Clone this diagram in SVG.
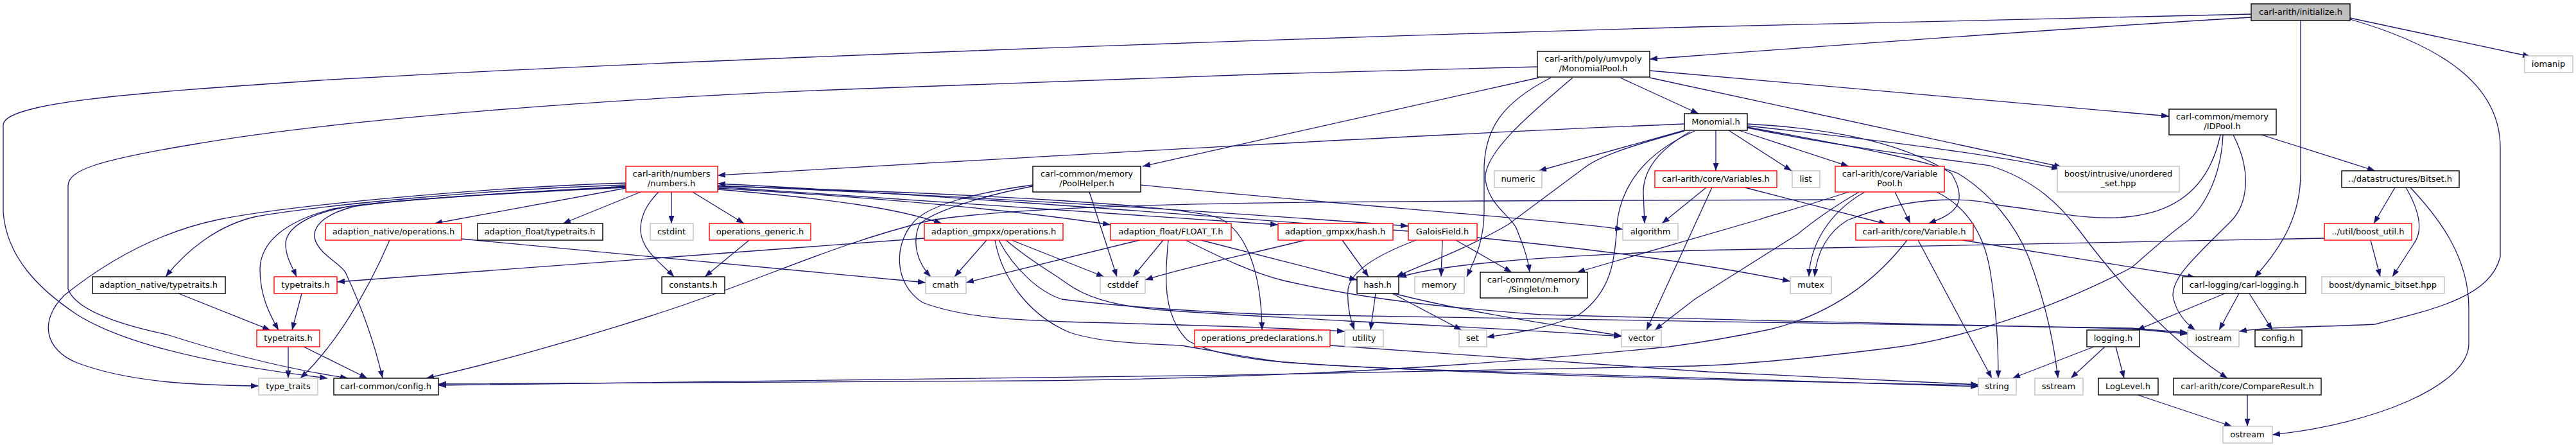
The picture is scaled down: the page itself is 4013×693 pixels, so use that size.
<svg xmlns="http://www.w3.org/2000/svg" width="4013" height="693" viewBox="0 0 4013 693">
<style>
.e{fill:none;stroke:#191970;stroke-width:1.3;marker-end:url(#a)}
rect{fill:#fff;stroke-width:1.4}
.k rect{stroke:#000}
.r rect{stroke:#ff0000}
.g rect{stroke:#bfbfbf}
.root rect{fill:#bfbfbf;stroke:#000}
text{font-family:"DejaVu Sans","Liberation Sans",sans-serif;font-size:13px;fill:#000;text-anchor:middle}
</style>
<defs>
<marker id="a" viewBox="0 0 12 9" refX="12" refY="4.5" markerWidth="12" markerHeight="9" markerUnits="userSpaceOnUse" orient="auto"><path d="M0,0L12,4.5L0,9z" fill="#191970"/></marker>
</defs>
<rect width="4013" height="693" fill="#fff" stroke="none"/>
<g id="edges">
<path class="e" d="M3507,27 C3200,45 2800,75 2570,92"/>
<path class="e" d="M3507,22 L2640,42 C2000,60 1000,95 500,125 C200,145 5,160 5,195 L5,330 C10,400 60,450 120,490 C200,540 350,570 510,589"/>
<path class="e" d="M3584,32 L3584,270 C3584,330 3560,380 3512,432"/>
<path class="e" d="M3661,30 C3800,70 3895,130 3895,230 L3895,400 C3880,460 3800,480 3700,505 C3600,510 3540,508 3488,516"/>
<path class="e" d="M3661,28 L3942,88"/>
<path class="e" d="M2395,104 L1980,115 L1320,139 C900,155 500,190 300,225 C150,250 106,265 106,290 L106,450 C115,475 160,500 260,521 C350,550 450,575 542,589"/>
<path class="e" d="M2397,121 L1780,259"/>
<path class="e" d="M2416,121 C2340,160 2314,200 2312,260 L2312,330 C2312,370 2300,400 2285,431"/>
<path class="e" d="M2450,121 C2380,180 2310,240 2314,280 C2320,320 2352,335 2362,355 C2372,380 2380,400 2383,424"/>
<path class="e" d="M2524,121 L2646,177"/>
<path class="e" d="M2570,110 C2900,140 3200,165 3379,181"/>
<path class="e" d="M2570,121 L3212,260"/>
<path class="e" d="M2624,193 C2200,210 1600,245 1118,273"/>
<path class="e" d="M2624,203 L2397,266"/>
<path class="e" d="M2673,203 L2673,266"/>
<path class="e" d="M2693,203 L2791,266"/>
<path class="e" d="M2709,203 L2880,259"/>
<path class="e" d="M2722,196 C2900,215 3100,240 3208,263"/>
<path class="e" d="M2722,193 C2850,200 2960,220 3040,270 C3070,320 3040,335 3004,348"/>
<path class="e" d="M2624,204 C2530,230 2490,245 2470,260 L2349,350 C2280,390 2220,410 2175,431"/>
<path class="e" d="M2640,204 C2570,235 2530,280 2520,340 C2515,400 2515,450 2460,490 C2400,515 2350,520 2316,525"/>
<path class="e" d="M2633,205 C2590,230 2560,260 2560,300 L2562,348"/>
<path class="e" d="M2722,198 C2900,230 3000,250 3050,270 C3100,300 3140,350 3160,400 C3190,480 3200,540 3206,589"/>
<path class="e" d="M2722,199 C2900,235 3050,250 3100,258 C3170,280 3210,320 3240,360 C3300,440 3380,530 3470,589"/>
<path class="e" d="M2658,292 L2589,348"/>
<path class="e" d="M2667,292 L2565,514"/>
<path class="e" d="M2718,292 L2939,349"/>
<path class="e" d="M2859,311 L2300,313 C1900,315 1600,320 1450,343 C1300,380 1200,430 1050,480 C900,530 750,570 664,589"/>
<path class="e" d="M2880,299 C2800,325 2760,335 2740,342 L2457,424"/>
<path class="e" d="M2896,299 C2860,320 2830,340 2800,365 L2640,466 L2578,514"/>
<path class="e" d="M2905,299 C2850,330 2820,380 2818,431"/>
<path class="e" d="M2952,299 L2976,348"/>
<path class="e" d="M3017,299 C3060,320 3090,360 3100,420 C3110,480 3113,540 3113,589"/>
<path class="e" d="M3459,210 C3440,300 3380,330 3320,337 C3260,345 3200,330 3117,320 C3050,303 2960,310 2878,343 C2850,360 2830,390 2827,431"/>
<path class="e" d="M3463,210 C3460,280 3430,330 3400,350 C3360,380 3330,410 3320,417 C3200,480 3050,530 2944,542 C2800,560 2700,568 2640,570 C2000,585 1200,595 683,600"/>
<path class="e" d="M3479,210 C3510,270 3500,320 3475,345 C3420,400 3385,430 3385,460 C3388,480 3400,500 3420,514"/>
<path class="e" d="M3523,210 L3700,266"/>
<path class="e" d="M3731,292 L3698,348"/>
<path class="e" d="M3748,292 C3770,330 3775,360 3760,380 L3727,431"/>
<path class="e" d="M3755,292 C3800,340 3846,400 3846,480 L3846,535 C3846,600 3700,660 3540,677"/>
<path class="e" d="M3693,374 L3708,431"/>
<path class="e" d="M3621,371 L2640,390 C2400,400 2250,410 2179,432"/>
<path class="e" d="M3262,540 L3135,589"/>
<path class="e" d="M3279,540 L3226,589"/>
<path class="e" d="M3296,540 L3309,589"/>
<path class="e" d="M3330,615 L3477,664"/>
<path class="e" d="M3501,615 L3501,664"/>
<path class="e" d="M3466,457 L3329,514"/>
<path class="e" d="M3488,457 L3457,514"/>
<path class="e" d="M3504,457 L3540,514"/>
<path class="e" d="M3057,374 L3420,432"/>
<path class="e" d="M2971,374 C2920,440 2850,490 2757,513 C2700,525 2660,532 2600,540 C2300,570 2000,589 1600,593 L683,598"/>
<path class="e" d="M2988,374 L3103,589"/>
<path class="e" d="M975,293 L677,348"/>
<path class="e" d="M998,299 L877,348"/>
<path class="e" d="M1026,299 C1005,320 997,340 998,360 C1000,390 1030,410 1050,431"/>
<path class="e" d="M1046,299 L1046,348"/>
<path class="e" d="M1079,299 L1159,348"/>
<path class="e" d="M975,285 C750,292 450,320 340,342 C230,365 150,420 100,460 C60,500 70,545 120,565 C200,595 300,600 403,601"/>
<path class="e" d="M975,288 C750,295 500,320 400,337 C340,350 290,390 258,431"/>
<path class="e" d="M975,290 C800,300 620,310 520,325 C440,345 405,380 405,420 C405,460 420,490 434,514"/>
<path class="e" d="M975,291 C800,300 620,310 540,322 C470,335 445,360 445,380 C445,400 455,415 462,431"/>
<path class="e" d="M975,292 C800,300 600,312 550,322 C500,335 488,355 490,370 C495,395 530,410 538,424 C555,460 580,520 596,589"/>
<path class="e" d="M607,374 C570,460 520,540 468,589"/>
<path class="e" d="M719,372 L1442,440"/>
<path class="e" d="M1167,374 L1098,431"/>
<path class="e" d="M278,457 L421,514"/>
<path class="e" d="M470,457 L455,514"/>
<path class="e" d="M449,540 L449,589"/>
<path class="e" d="M473,540 L572,589"/>
<path class="e" d="M1440,371 L525,439"/>
<path class="e" d="M1537,374 L1487,431"/>
<path class="e" d="M1576,374 L1720,431"/>
<path class="e" d="M1550,374 C1560,430 1600,490 1667,518 C1720,535 1790,535 1840,538 C1900,548 1950,558 2000,564 C2300,585 2800,595 3082,600"/>
<path class="e" d="M1556,374 C1580,420 1620,455 1654,466 C1750,478 1900,488 2000,490 C2300,496 3000,505 3320,511 L3408,518"/>
<path class="e" d="M1567,374 C1610,410 1640,425 1660,440 C1690,462 1730,475 1800,482 C1900,490 2000,494 2100,500 C2300,510 2450,518 2526,524"/>
<path class="e" d="M1775,374 L1505,440"/>
<path class="e" d="M1812,374 L1765,431"/>
<path class="e" d="M1820,374 C1815,430 1810,490 1850,530 C1900,560 2000,567 2200,575 C2600,590 2900,595 3082,602"/>
<path class="e" d="M1871,374 L2114,436"/>
<path class="e" d="M1847,374 C1900,400 1950,425 2000,437 C2100,460 2200,475 2400,490 C2700,500 3100,505 3320,512 L3408,520"/>
<path class="e" d="M2091,374 L2132,431"/>
<path class="e" d="M2033,374 C1950,395 1850,415 1784,436"/>
<path class="e" d="M2206,374 C2150,395 2105,420 2100,450 C2098,480 2105,500 2110,514"/>
<path class="e" d="M2247,374 L2245,431"/>
<path class="e" d="M2268,374 L2355,424"/>
<path class="e" d="M2301,370 C2500,390 2650,410 2789,438"/>
<path class="e" d="M2194,360 C1800,330 1400,300 1118,286"/>
<path class="e" d="M1118,289 C1500,305 1900,330 2194,352"/>
<path class="e" d="M1118,291 C1500,315 1800,335 1991,350"/>
<path class="e" d="M1118,293 C1400,310 1600,330 1730,350"/>
<path class="e" d="M1118,295 C1300,310 1400,325 1467,348"/>
<path class="e" d="M1118,290 C1500,300 1850,320 1900,340 C1940,360 1965,420 1966,514"/>
<path class="e" d="M2072,538 L2660,579 L3082,599"/>
<path class="e" d="M2143,457 L2135,514"/>
<path class="e" d="M2169,457 L2277,514"/>
<path class="e" d="M2171,457 C2300,490 2450,510 2526,523"/>
<path class="e" d="M1609,288 C1520,300 1440,320 1420,350 C1395,380 1390,440 1437,471 C1500,495 1580,498 1658,501 C1800,505 1950,508 2095,516"/>
<path class="e" d="M1609,290 C1530,305 1450,330 1432,350 C1420,380 1430,410 1450,431"/>
<path class="e" d="M1697,299 L1740,431"/>
<path class="e" d="M1777,288 C2100,320 2400,340 2528,357"/>
</g>
<g id="n-initialize" class="root"><rect x="3507" y="6" width="154" height="26"/><text x="3584" y="22.5">carl-arith/initialize.h</text></g>
<g id="n-monomialpool" class="k"><rect x="2395" y="80" width="175" height="40"/><text x="2482" y="96">carl-arith/poly/umvpoly</text><text x="2482" y="111">/MonomialPool.h</text></g>
<g id="n-iomanip" class="g"><rect x="3933" y="87" width="75" height="26"/><text x="3970" y="103.5">iomanip</text></g>
<g id="n-monomial" class="k"><rect x="2624" y="177" width="98" height="26"/><text x="2673" y="193.5">Monomial.h</text></g>
<g id="n-idpool" class="k"><rect x="3379" y="170" width="167" height="40"/><text x="3462" y="186">carl-common/memory</text><text x="3462" y="201">/IDPool.h</text></g>
<g id="n-numbers" class="r"><rect x="975" y="259" width="143" height="40"/><text x="1046" y="275">carl-arith/numbers</text><text x="1046" y="290">/numbers.h</text></g>
<g id="n-poolhelper" class="k"><rect x="1609" y="259" width="168" height="40"/><text x="1693" y="275">carl-common/memory</text><text x="1693" y="290">/PoolHelper.h</text></g>
<g id="n-numeric" class="g"><rect x="2328" y="266" width="74" height="26"/><text x="2365" y="282.5">numeric</text></g>
<g id="n-variables" class="r"><rect x="2578" y="266" width="190" height="26"/><text x="2673" y="282.5">carl-arith/core/Variables.h</text></g>
<g id="n-list" class="g"><rect x="2792" y="266" width="43" height="26"/><text x="2813" y="282.5">list</text></g>
<g id="n-variablepool" class="r"><rect x="2859" y="259" width="170" height="40"/><text x="2944" y="275">carl-arith/core/Variable</text><text x="2944" y="290">Pool.h</text></g>
<g id="n-unordered" class="g"><rect x="3205" y="259" width="190" height="40"/><text x="3300" y="275">boost/intrusive/unordered</text><text x="3300" y="290">_set.hpp</text></g>
<g id="n-bitset" class="k"><rect x="3648" y="266" width="183" height="26"/><text x="3739" y="282.5">../datastructures/Bitset.h</text></g>
<g id="n-nativeops" class="r"><rect x="507" y="348" width="212" height="26"/><text x="613" y="364.5">adaption_native/operations.h</text></g>
<g id="n-floattypetraits" class="k"><rect x="744" y="348" width="195" height="26"/><text x="841" y="364.5">adaption_float/typetraits.h</text></g>
<g id="n-cstdint" class="g"><rect x="1013" y="348" width="67" height="26"/><text x="1046" y="364.5">cstdint</text></g>
<g id="n-opsgeneric" class="r"><rect x="1105" y="348" width="158" height="26"/><text x="1184" y="364.5">operations_generic.h</text></g>
<g id="n-gmpxxops" class="r"><rect x="1440" y="348" width="216" height="26"/><text x="1548" y="364.5">adaption_gmpxx/operations.h</text></g>
<g id="n-floatt" class="r"><rect x="1730" y="348" width="188" height="26"/><text x="1824" y="364.5">adaption_float/FLOAT_T.h</text></g>
<g id="n-gmpxxhash" class="r"><rect x="1991" y="348" width="179" height="26"/><text x="2080" y="364.5">adaption_gmpxx/hash.h</text></g>
<g id="n-galois" class="r"><rect x="2194" y="348" width="107" height="26"/><text x="2247" y="364.5">GaloisField.h</text></g>
<g id="n-algorithm" class="g"><rect x="2528" y="348" width="86" height="26"/><text x="2571" y="364.5">algorithm</text></g>
<g id="n-variable" class="r"><rect x="2891" y="348" width="183" height="26"/><text x="2982" y="364.5">carl-arith/core/Variable.h</text></g>
<g id="n-boostutil" class="r"><rect x="3621" y="348" width="136" height="26"/><text x="3689" y="364.5">../util/boost_util.h</text></g>
<g id="n-nativetypetraits" class="k"><rect x="144" y="431" width="207" height="26"/><text x="247" y="447.5">adaption_native/typetraits.h</text></g>
<g id="n-typetraits1" class="r"><rect x="427" y="431" width="98" height="26"/><text x="476" y="447.5">typetraits.h</text></g>
<g id="n-constants" class="k"><rect x="1031" y="431" width="98" height="26"/><text x="1080" y="447.5">constants.h</text></g>
<g id="n-cmath" class="g"><rect x="1442" y="431" width="63" height="26"/><text x="1473" y="447.5">cmath</text></g>
<g id="n-cstddef" class="g"><rect x="1714" y="431" width="70" height="26"/><text x="1749" y="447.5">cstddef</text></g>
<g id="n-hash" class="k"><rect x="2114" y="431" width="65" height="26"/><text x="2146" y="447.5">hash.h</text></g>
<g id="n-memory" class="g"><rect x="2204" y="431" width="77" height="26"/><text x="2242" y="447.5">memory</text></g>
<g id="n-singleton" class="k"><rect x="2306" y="424" width="167" height="40"/><text x="2389" y="440">carl-common/memory</text><text x="2389" y="455">/Singleton.h</text></g>
<g id="n-mutex" class="g"><rect x="2789" y="431" width="64" height="26"/><text x="2821" y="447.5">mutex</text></g>
<g id="n-carllogging" class="k"><rect x="3400" y="431" width="192" height="26"/><text x="3496" y="447.5">carl-logging/carl-logging.h</text></g>
<g id="n-dynbitset" class="g"><rect x="3617" y="431" width="191" height="26"/><text x="3712" y="447.5">boost/dynamic_bitset.hpp</text></g>
<g id="n-typetraits2" class="r"><rect x="400" y="514" width="98" height="26"/><text x="449" y="530.5">typetraits.h</text></g>
<g id="n-predecl" class="r"><rect x="1861" y="514" width="211" height="26"/><text x="1966" y="530.5">operations_predeclarations.h</text></g>
<g id="n-utility" class="g"><rect x="2095" y="514" width="60" height="26"/><text x="2125" y="530.5">utility</text></g>
<g id="n-set" class="g"><rect x="2273" y="514" width="43" height="26"/><text x="2294" y="530.5">set</text></g>
<g id="n-vector" class="g"><rect x="2526" y="514" width="62" height="26"/><text x="2557" y="530.5">vector</text></g>
<g id="n-logging" class="k"><rect x="3251" y="514" width="82" height="26"/><text x="3292" y="530.5">logging.h</text></g>
<g id="n-iostream" class="g"><rect x="3408" y="514" width="80" height="26"/><text x="3448" y="530.5">iostream</text></g>
<g id="n-config" class="k"><rect x="3513" y="514" width="73" height="26"/><text x="3549" y="530.5">config.h</text></g>
<g id="n-type_traits" class="g"><rect x="403" y="589" width="92" height="26"/><text x="449" y="605.5">type_traits</text></g>
<g id="n-commonconfig" class="k"><rect x="520" y="589" width="163" height="26"/><text x="601" y="605.5">carl-common/config.h</text></g>
<g id="n-string" class="g"><rect x="3082" y="589" width="59" height="26"/><text x="3111" y="605.5">string</text></g>
<g id="n-sstream" class="g"><rect x="3170" y="589" width="75" height="26"/><text x="3207" y="605.5">sstream</text></g>
<g id="n-loglevel" class="k"><rect x="3269" y="589" width="93" height="26"/><text x="3315" y="605.5">LogLevel.h</text></g>
<g id="n-compareresult" class="k"><rect x="3386" y="589" width="230" height="26"/><text x="3501" y="605.5">carl-arith/core/CompareResult.h</text></g>
<g id="n-ostream" class="g"><rect x="3463" y="664" width="77" height="26"/><text x="3501" y="680.5">ostream</text></g>
</svg>
